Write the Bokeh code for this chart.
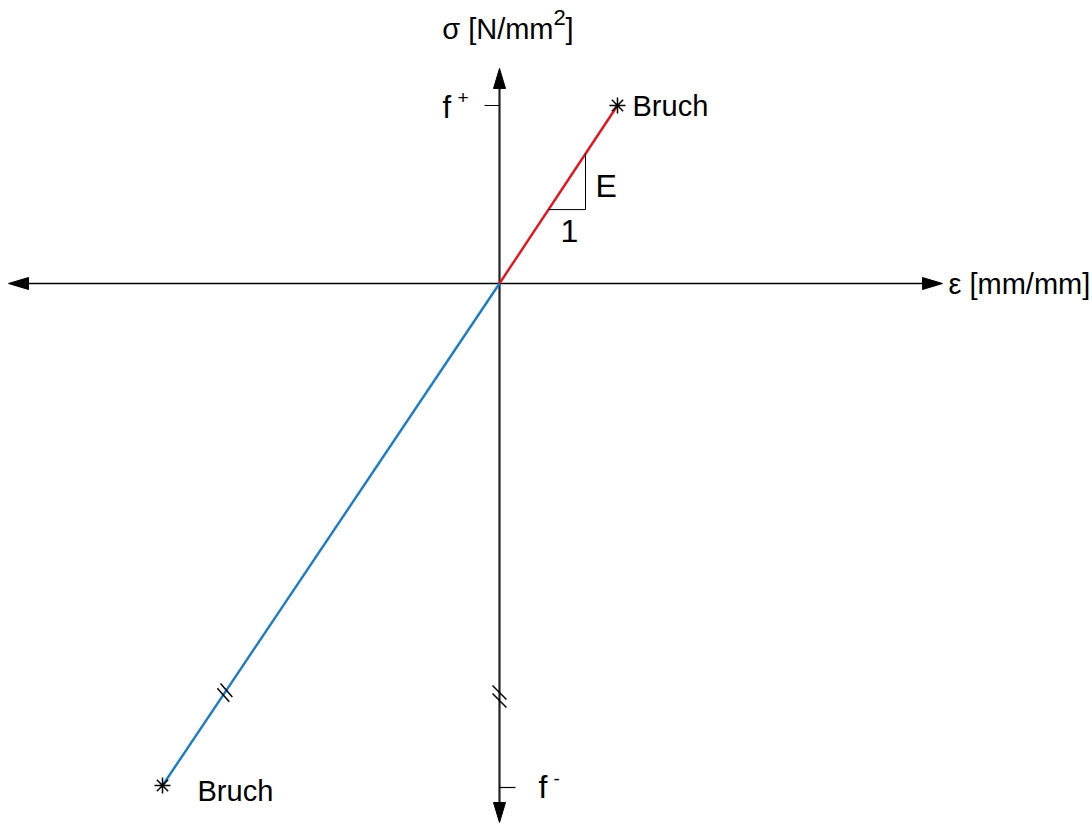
import numpy as np
from bokeh.plotting import figure
from bokeh.models import Range1d
from bokeh.core.properties import value
from bokeh.embed import file_html
from bokeh.resources import INLINE

# Linear-elastic stress-strain diagram (schematic units: 1 unit = 1 px)
strain_tension = [0, 118]
stress_tension = [0, 178]
strain_compression = [0, -337]
stress_compression = [0, -502]

f_plus = 178
f_minus = -504

axis_x_min, axis_x_max = -491, 443
axis_y_min, axis_y_max = -539, 215

FONT = value("Liberation Sans")
RED = "#e3131b"
BLUE = "#1b7bc6"

p = figure(width=1092, height=825, output_backend="svg", toolbar_location=None,
           x_range=Range1d(-499, 593), y_range=Range1d(-542, 283),
           min_border=0, outline_line_color=None, background_fill_color="white")
p.axis.visible = False
p.grid.visible = False

# axes
p.line([axis_x_min + 18, axis_x_max - 18], [0, 0], line_color="black", line_width=1.6)
p.line([0, 0], [axis_y_min + 18, axis_y_max - 18], line_color="#222222", line_width=2.2)

# arrow heads
hl, hw = 20, 6
p.patches(
    xs=[[axis_x_max, axis_x_max - hl, axis_x_max - hl],
        [axis_x_min, axis_x_min + hl, axis_x_min + hl],
        [0, -hw, hw],
        [0, -hw, hw]],
    ys=[[0, hw, -hw],
        [0, hw, -hw],
        [axis_y_max, axis_y_max - hl, axis_y_max - hl],
        [axis_y_min, axis_y_min + hl, axis_y_min + hl]],
    fill_color="black", line_color="black", line_width=1)

# f+ / f- ticks
p.segment(x0=[-15, 0], y0=[f_plus, f_minus], x1=[0, 16], y1=[f_plus, f_minus],
          line_color="black", line_width=1.2)

# stress-strain lines
p.line(strain_tension, stress_tension, line_color=RED, line_width=2.4)
p.line(strain_compression, stress_compression, line_color=BLUE, line_width=2.4)

# fracture points
p.scatter([strain_tension[-1], strain_compression[-1]],
          [stress_tension[-1], stress_compression[-1]],
          marker="asterisk", size=16, line_color="black", line_width=1.5)

# slope triangle
slope = stress_tension[-1] / strain_tension[-1]
tx0 = 49
tx1 = 86
p.line([tx0, tx1, tx1], [tx0 * slope, tx0 * slope, tx1 * slope],
       line_color="black", line_width=1)

# break marks on compression branch and on the sigma axis
t = 0.815
bx, by = strain_compression[-1] * t, stress_compression[-1] * t
d = np.array([strain_compression[-1], stress_compression[-1]], dtype=float)
d /= np.hypot(*d)
brk_dir = np.array([0.66, -0.75])
xs0, ys0, xs1, ys1 = [], [], [], []
for off in (-2.8, 2.8):
    cx, cy = bx + d[0] * off, by + d[1] * off
    xs0.append(cx - brk_dir[0] * 9); ys0.append(cy - brk_dir[1] * 9)
    xs1.append(cx + brk_dir[0] * 9); ys1.append(cy + brk_dir[1] * 9)
ay = -413
for off in (4, -4):
    xs0.append(-7); ys0.append(ay + off + 7)
    xs1.append(7); ys1.append(ay + off - 7)
p.segment(x0=xs0, y0=ys0, x1=xs1, y1=ys1, line_color="black", line_width=1.5)

# labels
def label(x, y, s, size, align="left"):
    p.text(x=[x], y=[y], text=[s], text_font=FONT, text_font_size=f"{size}px",
           text_color="black", text_align=align, text_baseline="middle")

label(54, 255, "σ [N/mm", 29, align="right")
label(54, 266, "2", 22)
label(66, 255, "]", 29)
label(449, 0, "ε [mm/mm]", 29)
label(133, 178, "Bruch", 29)
label(-302, -507, "Bruch", 29)
label(96, 98, "E", 32)
label(61, 53, "1", 32)
label(-57, 176, "f", 31)
label(-42, 186, "+", 19)
label(39, -503, "f", 32)
label(54, -495, "-", 19)

open("out.html", "w").write(file_html(p, INLINE))
